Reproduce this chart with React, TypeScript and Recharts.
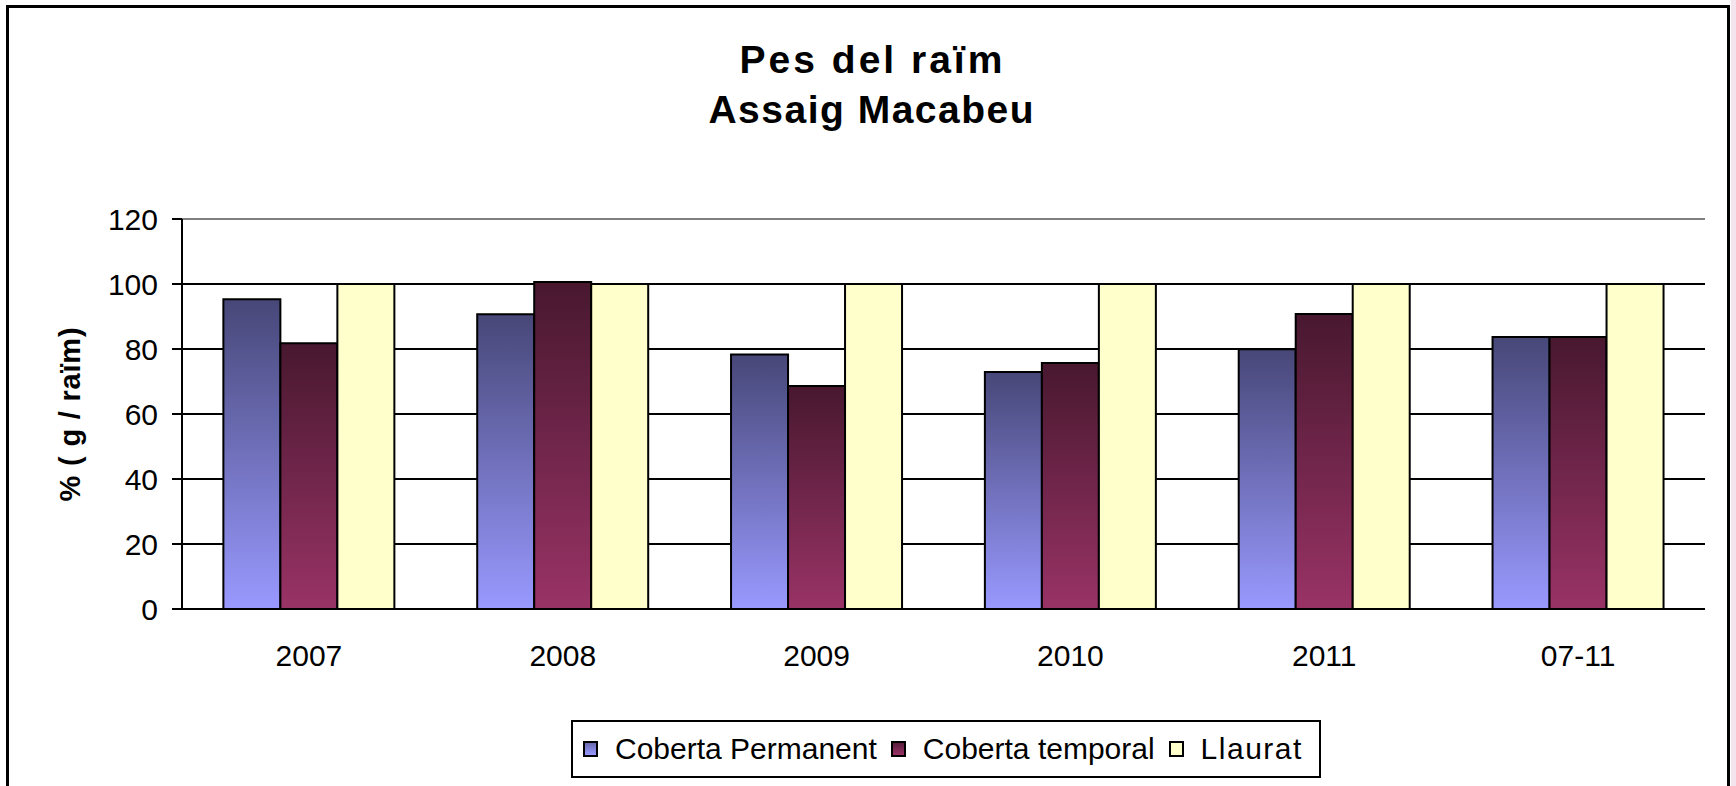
import React from 'react';
import {
  BarChart,
  Bar,
  XAxis,
  YAxis,
  CartesianGrid,
  ReferenceLine,
  Legend,
} from 'recharts';

const categories = ['2007', '2008', '2009', '2010', '2011', '07-11'];
const cobertaPermanent = [95.3, 90.7, 78.3, 72.9, 79.9, 83.7];
const cobertaTemporal = [81.8, 100.6, 68.6, 75.7, 90.8, 83.7];
const llaurat = [100, 100, 100, 100, 100, 100];
const yTicks = [0, 20, 40, 60, 80, 100, 120];
const edgeTicks = [0, 1, 2, 3, 4, 5, 6];

const seriesNames = ['Coberta Permanent', 'Coberta temporal', 'Llaurat'];
const seriesKeys = ['perm', 'temp', 'llau'];
const titleLines = ['Pes del raïm', 'Assaig Macabeu'];
const titleSpacing = [3, 1.5];
const yLabel = '% ( g / raïm)';

const data = categories.map((c, i) => ({
  year: c,
  perm: cobertaPermanent[i],
  temp: cobertaTemporal[i],
  llau: llaurat[i],
}));

const FONT = '"Liberation Sans", Arial, sans-serif';

const legendFills: Record<string, string> = {
  perm: 'linear-gradient(#6a6ab0, #9999ff)',
  temp: 'linear-gradient(#5a1d3c, #993366)',
  llau: '#ffffcc',
};

const LegendBox = () => (
  <div
    style={{
      boxSizing: 'border-box',
      width: 750,
      height: 58,
      border: '2px solid #000',
      background: '#fff',
      display: 'flex',
      alignItems: 'center',
      paddingLeft: 10,
      fontFamily: FONT,
      fontSize: 30,
      color: '#000',
      whiteSpace: 'nowrap',
    }}
  >
    {seriesKeys.map((k, i) => (
      <div key={k} style={{ display: 'flex', alignItems: 'center', marginRight: 14 }}>
        <span
          style={{
            display: 'inline-block',
            boxSizing: 'border-box',
            width: 15,
            height: 16,
            border: '2px solid #000',
            background: legendFills[k],
            marginRight: 17,
          }}
        />
        <span style={{ letterSpacing: k === 'llau' ? 1.5 : 0 }}>{seriesNames[i]}</span>
      </div>
    ))}
  </div>
);

const YLabel = (props: any) => {
  const vb = props.viewBox || {};
  const cx = vb.x - 2;
  const cy = vb.y + vb.height / 2;
  return (
    <text
      x={cx}
      y={cy}
      transform={`rotate(-90, ${cx}, ${cy})`}
      textAnchor="middle"
      fontFamily={FONT}
      fontWeight="bold"
      fontSize={29}
      letterSpacing={0.8}
      fill="#000"
    >
      {yLabel}
    </text>
  );
};

export default function App() {
  return (
    <div
      style={{
        position: 'absolute',
        left: 0,
        top: 0,
        width: 1736,
        height: 786,
        overflow: 'hidden',
        background: '#fff',
      }}
    >
      <div
        style={{
          position: 'absolute',
          left: 1731,
          top: 0,
          width: 5,
          height: 786,
          background: '#f4e4ee',
        }}
      />
      <div
        style={{
          position: 'absolute',
          left: 6,
          top: 5,
          width: 1724,
          height: 900,
          boxSizing: 'border-box',
          border: '3px solid #000',
        }}
      />
      <div style={{ position: 'absolute', left: 0, top: 0 }}>
        <BarChart
          width={1736}
          height={786}
          data={data}
          margin={{ top: 219, right: 31, bottom: 117, left: 82 }}
          barCategoryGap="16.3%"
          barGap={0}
        >
          <defs>
            <linearGradient id="gradPerm" x1="0" y1="0" x2="0" y2="1">
              <stop offset="0%" stopColor="#474778" />
              <stop offset="100%" stopColor="#9999ff" />
            </linearGradient>
            <linearGradient id="gradTemp" x1="0" y1="0" x2="0" y2="1">
              <stop offset="0%" stopColor="#48182f" />
              <stop offset="100%" stopColor="#993366" />
            </linearGradient>
          </defs>
          <CartesianGrid
            xAxisId="cat"
            vertical={false}
            stroke="#000"
            strokeWidth={2}
            strokeDasharray=""
          />
          <XAxis
            xAxisId="edge"
            type="number"
            domain={[0, 6]}
            allowDataOverflow
            ticks={edgeTicks}
            height={0}
            tick={false}
            tickSize={10}
            tickLine={{ stroke: '#000', strokeWidth: 2 }}
            axisLine={{ stroke: '#000', strokeWidth: 2 }}
          />
          <XAxis
            xAxisId="cat"
            dataKey="year"
            height={60}
            interval={0}
            axisLine={false}
            tickLine={false}
            tickSize={0}
            tickMargin={36}
            tick={{ fontFamily: FONT, fontSize: 30, fill: '#000' }}
          />
          <YAxis
            width={100}
            domain={[0, 120]}
            ticks={yTicks}
            interval={0}
            tickSize={10}
            tickMargin={14}
            axisLine={{ stroke: '#000', strokeWidth: 2 }}
            tickLine={{ stroke: '#000', strokeWidth: 2 }}
            tick={{ fontFamily: FONT, fontSize: 30, fill: '#000' }}
            label={<YLabel />}
          />
          <ReferenceLine xAxisId="cat" y={120} stroke="#808080" strokeWidth={2} />
          <ReferenceLine xAxisId="edge" x={6} stroke="#808080" strokeWidth={2} />
          <Bar
            xAxisId="cat"
            dataKey="perm"
            name={seriesNames[0]}
            fill="url(#gradPerm)"
            stroke="#000"
            strokeWidth={2}
            isAnimationActive={false}
          />
          <Bar
            xAxisId="cat"
            dataKey="temp"
            name={seriesNames[1]}
            fill="url(#gradTemp)"
            stroke="#000"
            strokeWidth={2}
            isAnimationActive={false}
          />
          <Bar
            xAxisId="cat"
            dataKey="llau"
            name={seriesNames[2]}
            fill="#ffffcc"
            stroke="#000"
            strokeWidth={2}
            isAnimationActive={false}
          />
          <Legend
            layout="horizontal"
            verticalAlign="middle"
            align="center"
            content={() => <LegendBox />}
            wrapperStyle={{
              position: 'absolute',
              left: 571,
              top: 720,
              right: 'auto',
              bottom: 'auto',
              width: 750,
              height: 58,
              margin: 0,
            }}
          />
        </BarChart>
      </div>
      <svg
        width={1736}
        height={786}
        style={{ position: 'absolute', left: 0, top: 0, pointerEvents: 'none' }}
      >
        {titleLines.map((t, i) => (
          <text
            key={t}
            x={871 + titleSpacing[i] / 2}
            y={73 + i * 50}
            textAnchor="middle"
            fontFamily={FONT}
            fontWeight="bold"
            fontSize={39}
            letterSpacing={titleSpacing[i]}
            fill="#000"
          >
            {t}
          </text>
        ))}
      </svg>
    </div>
  );
}
